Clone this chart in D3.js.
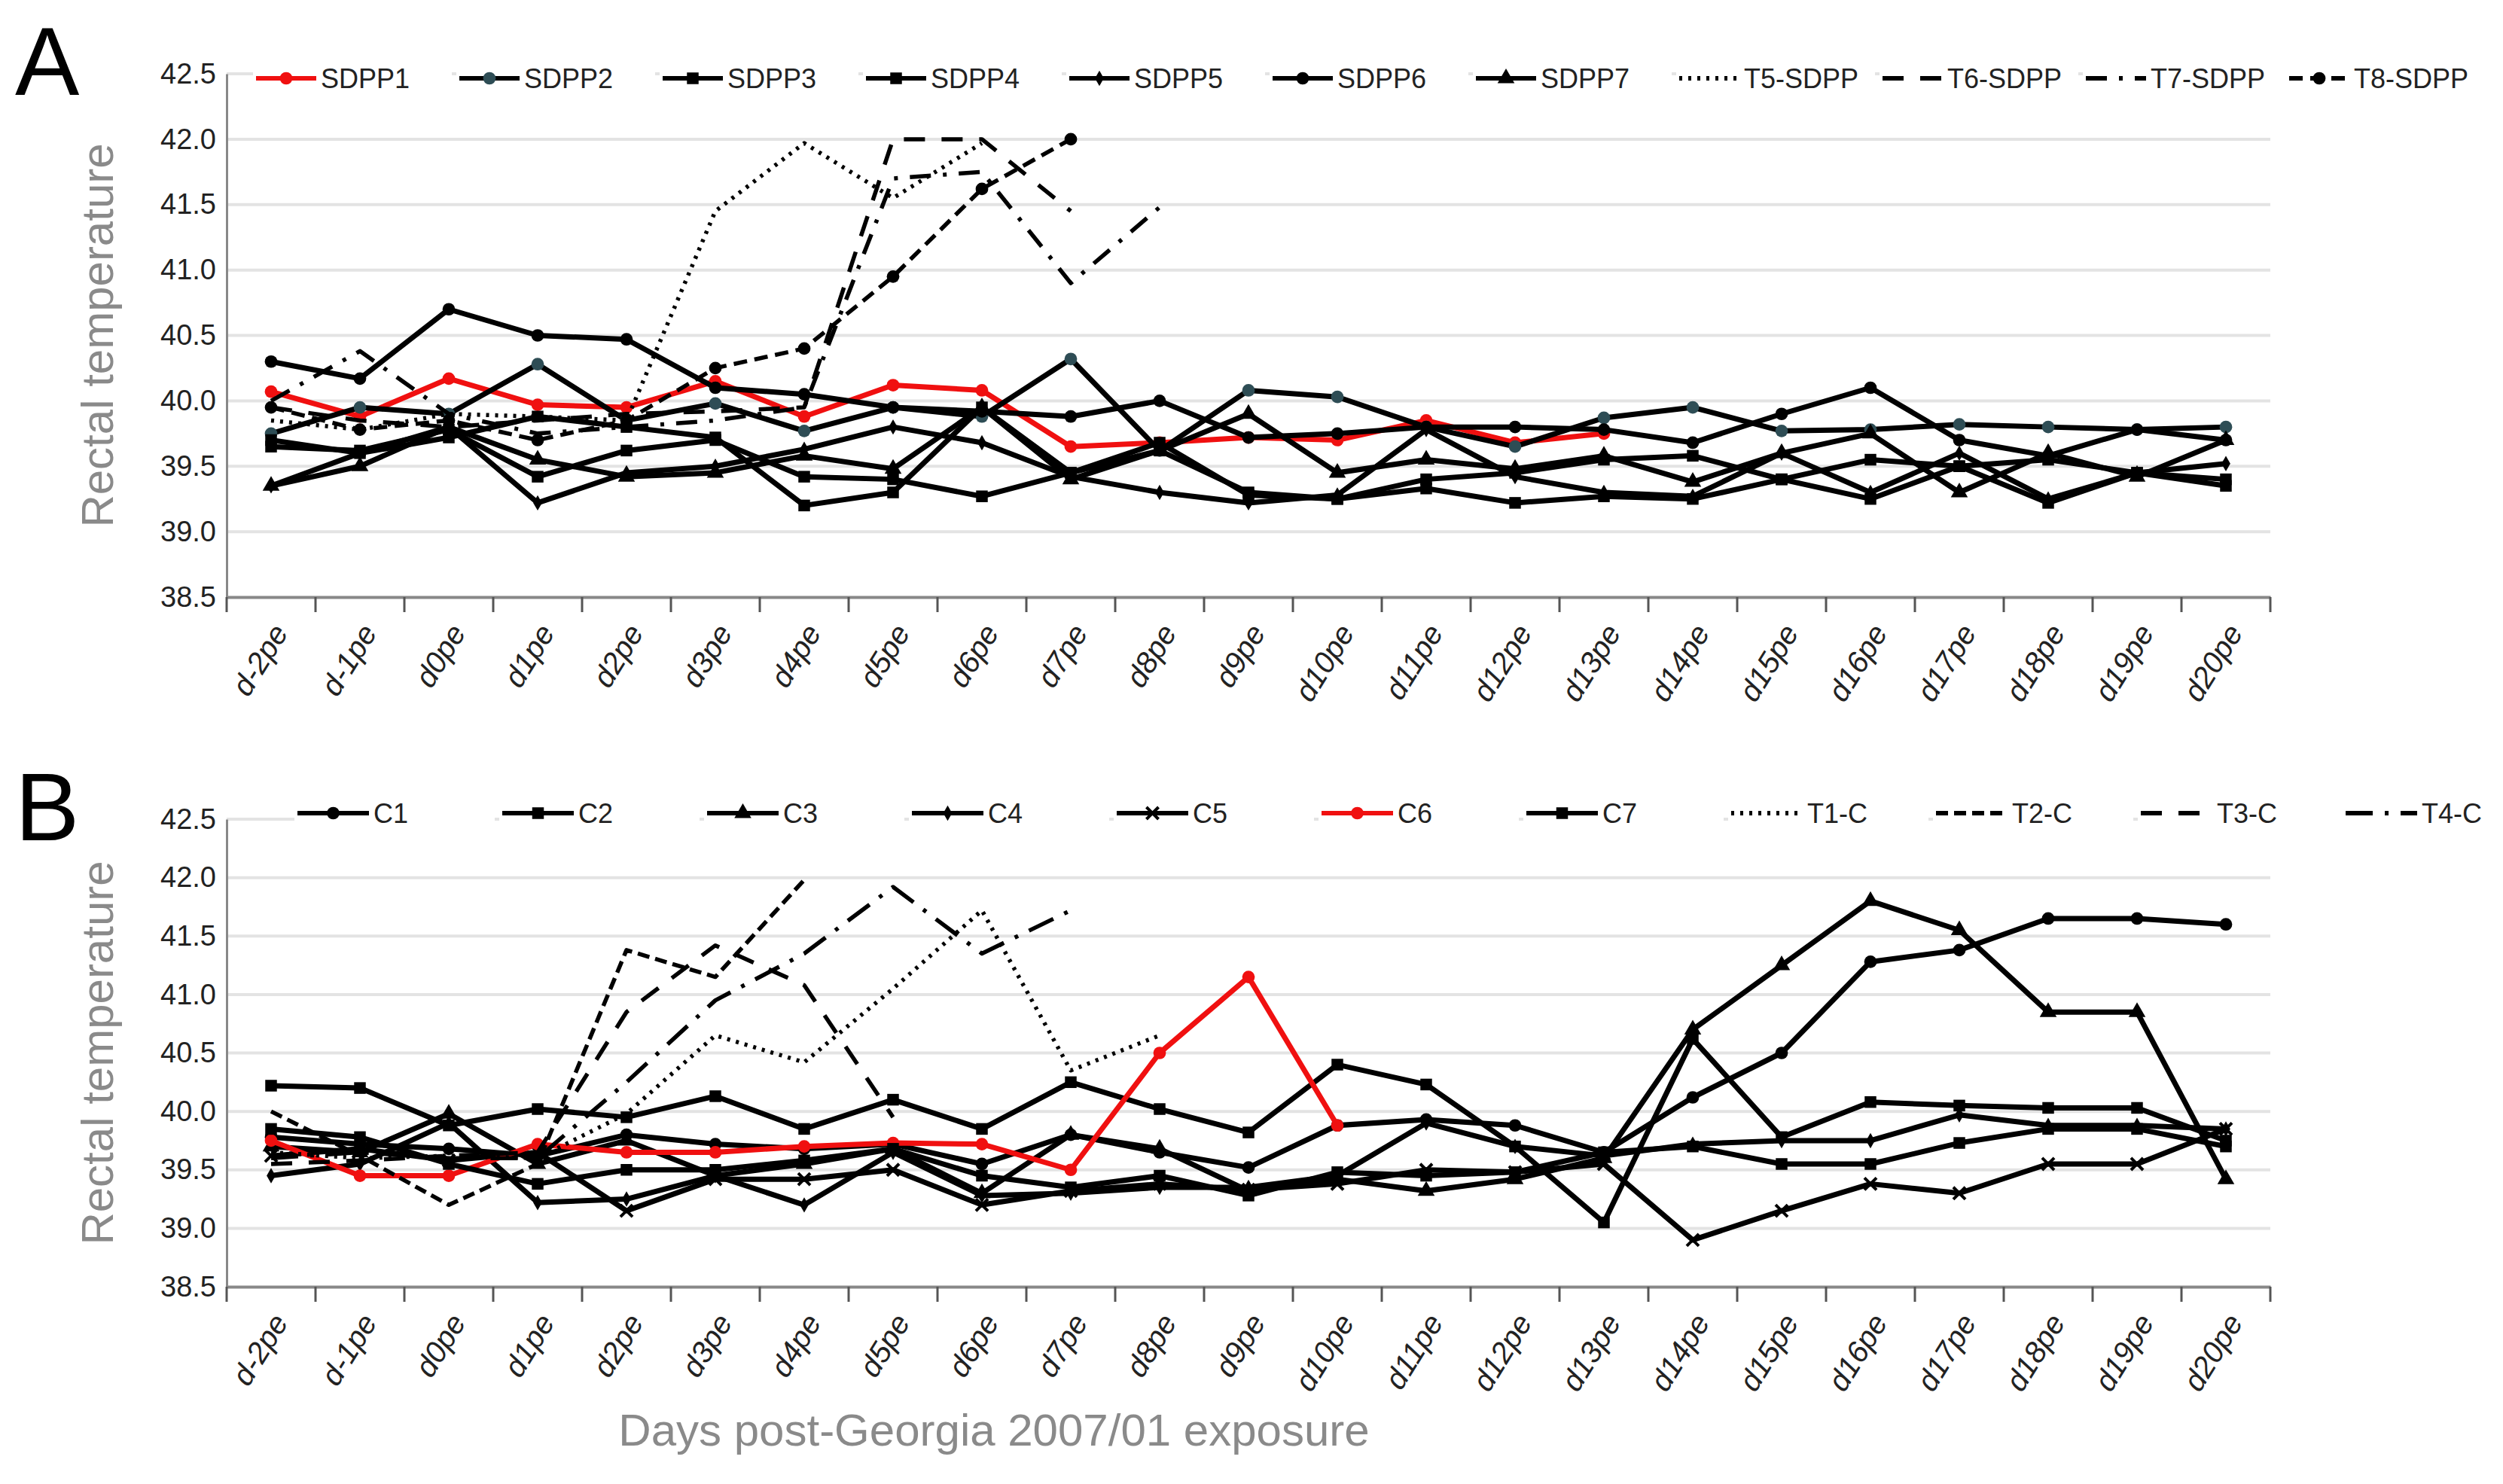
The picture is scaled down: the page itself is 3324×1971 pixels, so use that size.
<!DOCTYPE html>
<html>
<head>
<meta charset="utf-8">
<script src="https://cdn.jsdelivr.net/npm/d3@7"></script>
<style>
  body { margin: 0; background: #fff; }
  svg { font-family: "Liberation Sans Narrow", "Liberation Sans", Arial, sans-serif; }
</style>
</head>
<body>
<div id="container"></div>
<script>
// categories and tick labels
var days = ['d-2pe','d-1pe','d0pe','d1pe','d2pe','d3pe','d4pe','d5pe','d6pe','d7pe','d8pe','d9pe',
  'd10pe','d11pe','d12pe','d13pe','d14pe','d15pe','d16pe','d17pe','d18pe','d19pe','d20pe']
var yTicks = [38.5, 39.0, 39.5, 40.0, 40.5, 41.0, 41.5, 42.0, 42.5]

// panel A series
var sdpp1 = [40.07,39.88,40.17,39.97,39.95,40.15,39.88,40.12,40.08,39.65,39.68,39.72,39.70,39.85,39.68,39.75]
var sdpp2 = [39.75,39.95,39.90,40.28,39.85,39.98,39.77,39.95,39.88,40.32,39.62,40.08,40.03,39.80,39.65,39.87,39.95,39.77,39.78,39.82,39.80,39.78,39.80]
var sdpp3 = [39.65,39.62,39.78,39.42,39.62,39.70,39.42,39.40,39.27,39.45,39.62,39.30,39.25,39.40,39.45,39.55,39.58,39.40,39.55,39.50,39.22,39.45,39.40]
var sdpp4 = [39.70,39.60,39.72,39.88,39.80,39.72,39.20,39.30,39.95,39.45,39.68,39.28,39.25,39.33,39.22,39.27,39.25,39.40,39.25,39.50,39.55,39.45,39.35]
var sdpp5 = [39.35,39.60,39.80,39.22,39.45,39.50,39.63,39.80,39.68,39.42,39.30,39.22,39.28,39.78,39.42,39.30,39.27,39.60,39.30,39.60,39.25,39.45,39.52]
var sdpp6 = [40.30,40.17,40.70,40.50,40.47,40.10,40.05,39.95,39.92,39.88,40.00,39.72,39.75,39.80,39.80,39.78,39.68,39.90,40.10,39.70,39.58,39.78,39.70]
var sdpp7 = [39.35,39.50,39.80,39.55,39.42,39.45,39.58,39.48,39.95,39.40,39.62,39.90,39.45,39.55,39.48,39.58,39.38,39.60,39.75,39.30,39.60,39.42,39.70]
var t5sdpp = [39.85,39.78,39.90,39.88,39.85,41.45,41.97,41.55,41.97]
var t6sdpp = [39.95,39.85,39.80,39.85,39.90,39.92,39.95,42.00,42.00,41.45]
var t7sdpp = [40.00,40.38,39.90,39.75,39.80,39.85,39.95,41.70,41.75,40.90,41.48]
var t8sdpp = [39.95,39.78,39.85,39.70,39.85,40.25,40.40,40.95,41.62,42.00]

// panel B series
var c1 = [39.78,39.72,39.68,39.62,39.80,39.72,39.68,39.72,39.55,39.80,39.65,39.52,39.88,39.93,39.88,39.65,40.12,40.50,41.28,41.38,41.65,41.65,41.60]
var c2 = [40.22,40.20,39.88,40.02,39.95,40.13,39.85,40.10,39.85,40.25,40.02,39.82,40.40,40.23,39.70,39.05,40.62,39.78,40.08,40.05,40.03,40.03,39.75]
var c3 = [39.70,39.65,39.98,39.55,39.75,39.45,39.55,39.68,39.30,39.80,39.68,39.32,39.42,39.32,39.42,39.60,40.70,41.25,41.80,41.55,40.85,40.85,39.42]
var c4 = [39.45,39.55,39.90,39.22,39.25,39.45,39.20,39.65,39.28,39.30,39.35,39.35,39.45,39.90,39.70,39.62,39.72,39.75,39.75,39.97,39.88,39.88,39.85]
var c5 = [39.62,39.68,39.58,39.65,39.15,39.42,39.42,39.50,39.20,39.32,39.38,39.33,39.38,39.50,39.48,39.55,38.90,39.15,39.38,39.30,39.55,39.55,39.85]
var c6 = [39.75,39.45,39.45,39.72,39.65,39.65,39.70,39.73,39.72,39.50,40.50,41.15,39.88]
var c7 = [39.85,39.78,39.55,39.38,39.50,39.50,39.58,39.68,39.45,39.35,39.45,39.28,39.48,39.45,39.48,39.65,39.70,39.55,39.55,39.73,39.85,39.85,39.70]
var t1c = [39.65,39.60,39.62,39.60,39.98,40.65,40.42,41.05,41.72,40.35,40.65]
var t2c = [40.00,39.62,39.20,39.55,41.38,41.15,41.98]
var t3c = [39.55,39.58,39.62,39.65,40.85,41.42,41.08,39.95]
var t4c = [39.60,39.65,39.60,39.60,40.25,40.95,41.35,41.92,41.35,41.72]

var W = 3324, H = 1971
var svg = d3.select('#container').append('svg').attr('width', W).attr('height', H)

function marker(g, type, color, x, y) {
  if (!type) return
  var sym = {circle: d3.symbolCircle, square: d3.symbolSquare, triangle: d3.symbolTriangle,
    diamond: d3.symbolDiamond, star: d3.symbolTimes}[type]
  var size = {circle: 220, square: 240, triangle: 220, diamond: 120, star: 170}[type]
  var p = g.append('path').attr('d', d3.symbol(sym, size)()).attr('transform', 'translate(' + x + ',' + y + ')')
  if (type === 'star') p.attr('fill', 'none').attr('stroke', color).attr('stroke-width', 4)
  else p.attr('fill', color)
}

function panel(cfg) {
  var left = 301, right = 3015
  var x = d3.scaleBand().domain(days).range([left, right])
  var y = d3.scaleLinear().domain([38.5, 42.5]).range([cfg.bottom, cfg.top])
  var g = svg.append('g')

  g.selectAll('.grid').data(yTicks.slice(1)).enter().append('line')
    .attr('x1', left).attr('x2', right).attr('y1', function (d) { return y(d) }).attr('y2', function (d) { return y(d) })
    .attr('stroke', '#e3e3e3').attr('stroke-width', 4)

  var yAxis = g.append('g').attr('transform', 'translate(' + left + ',0)')
    .call(d3.axisLeft(y).tickValues(yTicks).tickFormat(d3.format('.1f')).tickSize(0).tickPadding(14))
  yAxis.select('.domain').attr('stroke', '#888').attr('stroke-width', 3)
  yAxis.selectAll('text').attr('font-size', 38).attr('fill', '#222')

  var xAxis = g.append('g').attr('transform', 'translate(0,' + cfg.bottom + ')')
    .call(d3.axisBottom(x).tickSize(0).tickPadding(0))
  xAxis.select('.domain').attr('stroke', '#888').attr('stroke-width', 4)
  xAxis.selectAll('.tick text').attr('font-size', 40).attr('fill', '#222').attr('text-anchor', 'end')
    .attr('transform', 'translate(12,40) rotate(-58)').attr('dy', '0.35em').attr('font-style', 'italic')
  // tick marks at category boundaries
  g.selectAll('.sep').data(days.concat(['end'])).enter().append('line')
    .attr('x1', function (d, i) { return left + i * x.step() }).attr('x2', function (d, i) { return left + i * x.step() })
    .attr('y1', cfg.bottom).attr('y2', cfg.bottom + 20).attr('stroke', '#555').attr('stroke-width', 3)

  g.append('text').attr('transform', 'translate(150,' + (cfg.top + cfg.bottom) / 2 + ') rotate(-90)')
    .attr('text-anchor', 'middle').attr('font-family', 'Liberation Sans, Arial, sans-serif')
    .attr('font-size', 60).attr('fill', '#8a8a8a').text('Rectal temperature')
  g.append('text').attr('x', 20).attr('y', cfg.top + 28).attr('font-family', 'Liberation Sans, Arial, sans-serif')
    .attr('font-size', 128).attr('fill', '#000').text(cfg.letter)

  var line = d3.line().x(function (d, i) { return x(days[i]) + x.bandwidth() / 2 }).y(function (d) { return y(d) })
  cfg.series.forEach(function (s) {
    g.append('path').datum(s.values).attr('d', line).attr('fill', 'none')
      .attr('stroke', s.color).attr('stroke-width', s.dash ? 5.5 : 7)
      .attr('stroke-dasharray', s.dash || null).attr('stroke-linejoin', 'round')
    s.values.forEach(function (v, i) { marker(g, s.marker, s.mcolor || s.color, x(days[i]) + x.bandwidth() / 2, y(v)) })
  })

  // legend
  cfg.series.forEach(function (s, i) {
    var lx = cfg.legX + i * cfg.legStep, ly = cfg.legY
    g.append('rect').attr('x', lx - 4).attr('y', ly - 24).attr('width', cfg.legStep - 6).attr('height', 48).attr('fill', '#fff')
    g.append('line').attr('x1', lx).attr('x2', lx + cfg.legLine).attr('y1', ly).attr('y2', ly)
      .attr('stroke', s.color).attr('stroke-width', 6).attr('stroke-dasharray', s.dash || null)
    marker(g, s.marker, s.mcolor || s.color, lx + cfg.legLine / 2, ly)
    g.append('text').attr('x', lx + cfg.legLine + 6).attr('y', ly).attr('dy', '0.35em').attr('font-size', 36)
      .attr('fill', '#222').text(s.name)
  })
}

panel({
  letter: 'A', top: 98, bottom: 793, legX: 340, legY: 104, legStep: 270, legLine: 80,
  series: [
    {name: 'SDPP1', values: sdpp1, color: '#f01010', marker: 'circle'},
    {name: 'SDPP2', values: sdpp2, color: '#000', marker: 'circle', mcolor: '#2e4d55'},
    {name: 'SDPP3', values: sdpp3, color: '#000', marker: 'square'},
    {name: 'SDPP4', values: sdpp4, color: '#000', marker: 'square'},
    {name: 'SDPP5', values: sdpp5, color: '#000', marker: 'diamond'},
    {name: 'SDPP6', values: sdpp6, color: '#000', marker: 'circle'},
    {name: 'SDPP7', values: sdpp7, color: '#000', marker: 'triangle'},
    {name: 'T5-SDPP', values: t5sdpp, color: '#000', dash: '4,8'},
    {name: 'T6-SDPP', values: t6sdpp, color: '#000', dash: '28,22'},
    {name: 'T7-SDPP', values: t7sdpp, color: '#000', dash: '28,16,5,16'},
    {name: 'T8-SDPP', values: t8sdpp, color: '#000', dash: '18,10', marker: 'circle'}
  ]
})

panel({
  letter: 'B', top: 1088, bottom: 1709, legX: 395, legY: 1080, legStep: 272, legLine: 95,
  series: [
    {name: 'C1', values: c1, color: '#000', marker: 'circle'},
    {name: 'C2', values: c2, color: '#000', marker: 'square'},
    {name: 'C3', values: c3, color: '#000', marker: 'triangle'},
    {name: 'C4', values: c4, color: '#000', marker: 'diamond'},
    {name: 'C5', values: c5, color: '#000', marker: 'star'},
    {name: 'C6', values: c6, color: '#f01010', marker: 'circle'},
    {name: 'C7', values: c7, color: '#000', marker: 'square'},
    {name: 'T1-C', values: t1c, color: '#000', dash: '4,8'},
    {name: 'T2-C', values: t2c, color: '#000', dash: '16,8'},
    {name: 'T3-C', values: t3c, color: '#000', dash: '28,22'},
    {name: 'T4-C', values: t4c, color: '#000', dash: '36,16,5,16'}
  ]
})

svg.append('text').attr('x', 1320).attr('y', 1920).attr('text-anchor', 'middle')
  .attr('font-family', 'Liberation Sans, Arial, sans-serif').attr('font-size', 60).attr('fill', '#8a8a8a')
  .text('Days post-Georgia 2007/01 exposure')
</script>
</body>
</html>
